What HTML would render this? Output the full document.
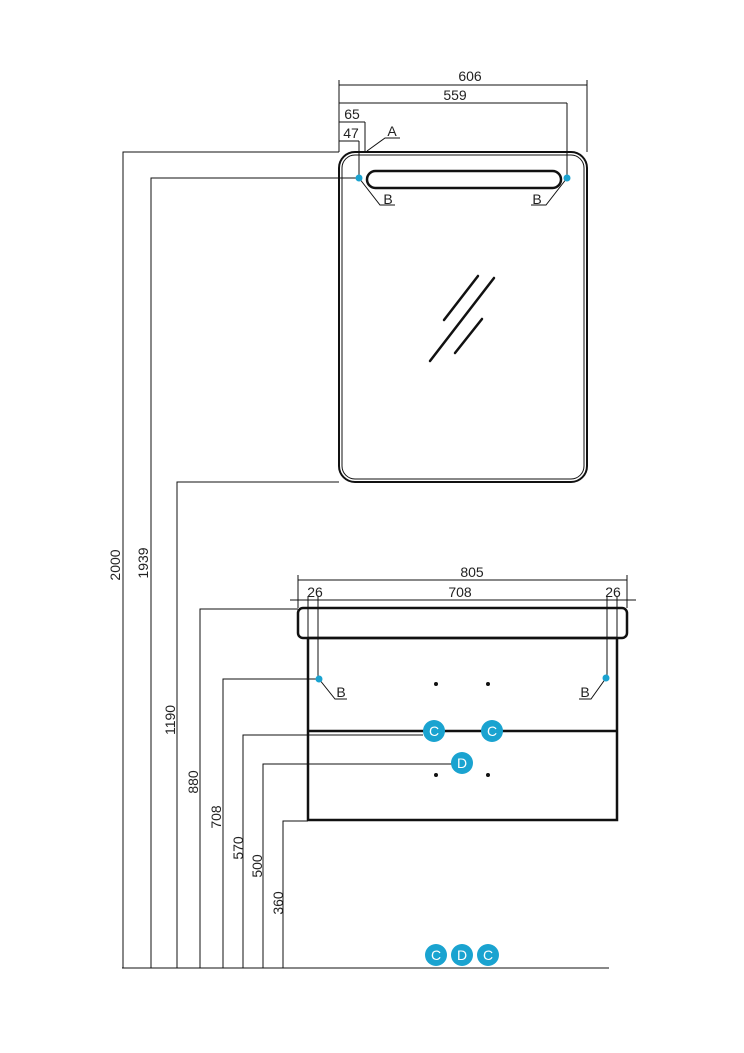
<!DOCTYPE html>
<html><head><style>body{margin:0;background:#fff}svg{display:block}text{font-family:"Liberation Sans",sans-serif;font-size:14px;fill:#222}</style></head><body>
<svg width="744" height="1053" viewBox="0 0 744 1053" xmlns="http://www.w3.org/2000/svg">
<g stroke="#111" fill="none" stroke-width="1">
<rect x="339" y="152" width="248" height="330" rx="16" stroke-width="2"/>
<rect x="342" y="155" width="242" height="324" rx="13" stroke-width="1"/>
<rect x="367" y="171" width="194" height="17" rx="8.5" stroke-width="2.5"/>
<path d="M478 276L444 320M494 278L430 361M482 319L455 353" stroke-width="2.5" stroke-linecap="round"/>
<path d="M339 80V152M587 80V152M339 85H587M339 103H567M567 103V178M339 122H365M365 122V152M339 141H359M359 141V178"/>
<path d="M367 151L385 138H400M359 178L380 205H395M567 178L546 205H531"/>
<rect x="298" y="608" width="329" height="30" rx="5" stroke-width="2.5"/>
<path d="M308 638V820H617V638M308 638H617M308 731H617" stroke-width="2.5"/>
<path d="M298 575V608M627 575V608M298 580H627M290 600H636M308 596V638M318 596V679M607 596V678M617 596V638"/>
<path d="M319 679L335 699H347M606 678L591 699H579"/>
<path d="M123 968V152H339M151 968V178H359M177 968V482H339M200 968V609H298M223 968V679H319M243 968V735H423M263 968V764H452M283 968V821H308M122 968H609"/>
</g>
<g fill="#111"><circle cx="436" cy="684" r="2"/><circle cx="488" cy="684" r="2"/><circle cx="436" cy="775" r="2"/><circle cx="488" cy="775" r="2"/></g>
<g fill="#1aa3d0"><circle cx="359" cy="178" r="3.5"/><circle cx="567" cy="178" r="3.5"/><circle cx="319" cy="679" r="3.5"/><circle cx="606" cy="678" r="3.5"/>
<circle cx="434" cy="731" r="11"/><circle cx="492" cy="731" r="11"/><circle cx="462" cy="763" r="11"/>
<circle cx="436" cy="955" r="11"/><circle cx="462" cy="955" r="11"/><circle cx="488" cy="955" r="11"/></g>
<g text-anchor="middle"><text x="434" y="736" style="fill:#fff">C</text><text x="492" y="736" style="fill:#fff">C</text><text x="462" y="768" style="fill:#fff">D</text>
<text x="436" y="960" style="fill:#fff">C</text><text x="462" y="960" style="fill:#fff">D</text><text x="488" y="960" style="fill:#fff">C</text></g>
<g text-anchor="middle">
<text x="470" y="81">606</text><text x="455" y="100">559</text>
<text x="352" y="119">65</text><text x="351" y="138">47</text><text x="392" y="136">A</text>
<text x="388" y="204">B</text><text x="537" y="204">B</text>
<text x="472" y="577">805</text><text x="460" y="597">708</text><text x="315" y="597">26</text><text x="613" y="597">26</text>
<text x="341" y="697">B</text><text x="585" y="697">B</text>
</g>
<g text-anchor="middle">
<text transform="translate(120,565) rotate(-90)">2000</text>
<text transform="translate(148,563) rotate(-90)">1939</text>
<text transform="translate(175,720) rotate(-90)">1190</text>
<text transform="translate(198,782) rotate(-90)">880</text>
<text transform="translate(221,817) rotate(-90)">708</text>
<text transform="translate(243,848) rotate(-90)">570</text>
<text transform="translate(262,866) rotate(-90)">500</text>
<text transform="translate(283,903) rotate(-90)">360</text>
</g>
</svg>
</body></html>
